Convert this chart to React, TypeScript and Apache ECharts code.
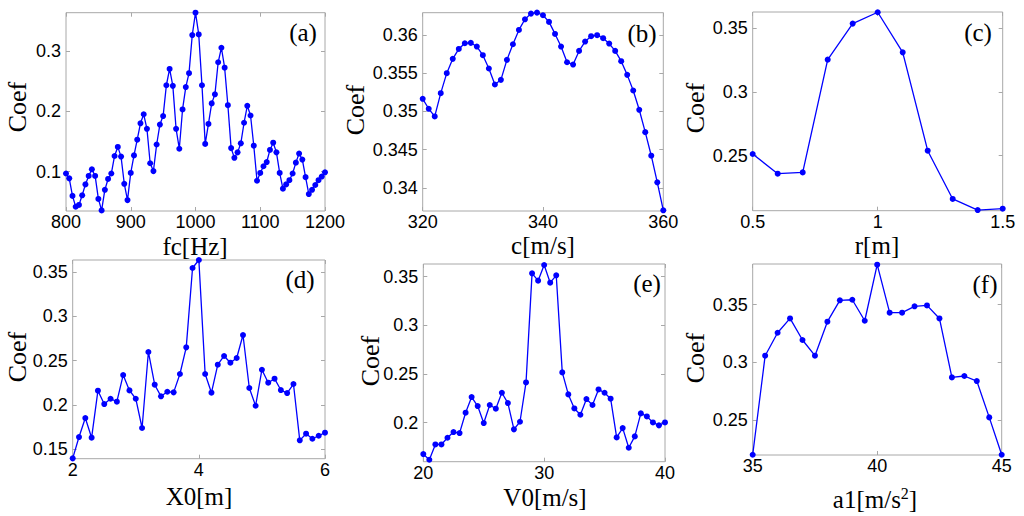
import { useEffect, useRef } from 'react'
import * as echarts from 'echarts'

// ---- data ----
const fcHz = [
  800, 805, 810, 815, 820, 825, 830, 835, 840, 845, 850, 855, 860, 865, 870, 875, 880, 885, 890, 895,
  900, 905, 910, 915, 920, 925, 930, 935, 940, 945, 950, 955, 960, 965, 970, 975, 980, 985, 990, 995,
  1000, 1005, 1010, 1015, 1020, 1025, 1030, 1035, 1040, 1045, 1050, 1055, 1060, 1065, 1070, 1075, 1080,
  1085, 1090, 1095, 1100, 1105, 1110, 1115, 1120, 1125, 1130, 1135, 1140, 1145, 1150, 1155, 1160, 1165,
  1170, 1175, 1180, 1185, 1190, 1195, 1200,
]
const coefFc = [
  0.097, 0.089, 0.06, 0.042, 0.045, 0.061, 0.079, 0.093, 0.104, 0.093, 0.055, 0.036, 0.07, 0.088, 0.097,
  0.126, 0.141, 0.125, 0.08, 0.053, 0.098, 0.127, 0.153, 0.18, 0.195, 0.171, 0.114, 0.101, 0.145, 0.178,
  0.192, 0.243, 0.27, 0.242, 0.171, 0.138, 0.203, 0.24, 0.263, 0.326, 0.363, 0.327, 0.243, 0.146, 0.179,
  0.213, 0.228, 0.281, 0.305, 0.272, 0.21, 0.139, 0.123, 0.132, 0.147, 0.181, 0.209, 0.193, 0.143, 0.085,
  0.098, 0.109, 0.116, 0.136, 0.148, 0.132, 0.098, 0.072, 0.079, 0.086, 0.097, 0.115, 0.13, 0.12, 0.091,
  0.063, 0.07, 0.078, 0.086, 0.092, 0.099,
]

const cMs = [
  320, 321, 322, 323, 324, 325, 326, 327, 328, 329, 330, 331, 332, 333, 334, 335, 336, 337, 338, 339, 340,
  341, 342, 343, 344, 345, 346, 347, 348, 349, 350, 351, 352, 353, 354, 355, 356, 357, 358, 359, 360,
]
const coefC = [
  0.35165, 0.35035, 0.34935, 0.35239, 0.355, 0.35687, 0.35817, 0.35891, 0.35896, 0.35848, 0.35735,
  0.35561, 0.35352, 0.35413, 0.35674, 0.35878, 0.36065, 0.36204, 0.36278, 0.36291, 0.36257, 0.3617,
  0.36013, 0.35848, 0.35643, 0.35613, 0.35791, 0.35913, 0.35983, 0.35996, 0.35957, 0.35887, 0.35791,
  0.35657, 0.35478, 0.35274, 0.35022, 0.3473, 0.34422, 0.34074, 0.33709,
]

const rM = [0.5, 0.6, 0.7, 0.8, 0.9, 1.0, 1.1, 1.2, 1.3, 1.4, 1.5]
const coefR = [0.2513, 0.2359, 0.2369, 0.3252, 0.3534, 0.3623, 0.3309, 0.2539, 0.2161, 0.2074, 0.2085]

const x0M = [
  2.0, 2.1, 2.2, 2.3, 2.4, 2.5, 2.6, 2.7, 2.8, 2.9, 3.0, 3.1, 3.2, 3.3, 3.4, 3.5, 3.6, 3.7, 3.8, 3.9, 4.0,
  4.1, 4.2, 4.3, 4.4, 4.5, 4.6, 4.7, 4.8, 4.9, 5.0, 5.1, 5.2, 5.3, 5.4, 5.5, 5.6, 5.7, 5.8, 5.9, 6.0,
]
const coefX0 = [
  0.1399, 0.1639, 0.1853, 0.1632, 0.2162, 0.2011, 0.2071, 0.2038, 0.2338, 0.2165, 0.2071, 0.1741, 0.2598,
  0.2229, 0.2098, 0.215, 0.2143, 0.235, 0.265, 0.3545, 0.3635, 0.235, 0.2139, 0.2455, 0.2553, 0.2477,
  0.253, 0.2789, 0.2192, 0.1992, 0.2398, 0.2252, 0.2297, 0.2169, 0.2135, 0.2237, 0.1602, 0.1677, 0.162,
  0.1654, 0.1688,
]

const v0Ms = [
  20, 20.5, 21, 21.5, 22, 22.5, 23, 23.5, 24, 24.5, 25, 25.5, 26, 26.5, 27, 27.5, 28, 28.5, 29, 29.5, 30,
  30.5, 31, 31.5, 32, 32.5, 33, 33.5, 34, 34.5, 35, 35.5, 36, 36.5, 37, 37.5, 38, 38.5, 39, 39.5, 40,
]
const coefV0 = [
  0.1678, 0.162, 0.1777, 0.1777, 0.1846, 0.1904, 0.1894, 0.2103, 0.2264, 0.2171, 0.1997, 0.2182, 0.2144,
  0.2308, 0.2202, 0.1932, 0.201, 0.2414, 0.3534, 0.3459, 0.362, 0.3438, 0.3514, 0.2517, 0.2291, 0.2147,
  0.2082, 0.2243, 0.2182, 0.2342, 0.2308, 0.2247, 0.1849, 0.1945, 0.1743, 0.186, 0.2096, 0.2065, 0.2003,
  0.1973, 0.2003,
]

const a1Ms2 = [35, 35.5, 36, 36.5, 37, 37.5, 38, 38.5, 39, 39.5, 40, 40.5, 41, 41.5, 42, 42.5, 43, 43.5, 44, 44.5, 45]
const coefA1 = [
  0.2199, 0.3058, 0.3257, 0.3381, 0.3194, 0.3058, 0.3353, 0.3538, 0.3543, 0.3361, 0.3847, 0.3431, 0.3431,
  0.3486, 0.3494, 0.3381, 0.287, 0.2882, 0.2838, 0.2523, 0.2199,
]

// y tick values per panel
const yTicksA = [0.1, 0.2, 0.3]
const yTicksB = [0.34, 0.345, 0.35, 0.355, 0.36]
const yTicksC = [0.25, 0.3, 0.35]
const yTicksD = [0.15, 0.2, 0.25, 0.3, 0.35]
const yTicksE = [0.2, 0.25, 0.3, 0.35]
const yTicksF = [0.25, 0.3, 0.35]

const panelLabels = ['(a)', '(b)', '(c)', '(d)', '(e)', '(f)']

// ---- layout ----
const panels = [
  { x: fcHz, y: coefFc, yTicks: yTicksA, grid: [66, 12.7, 259, 198.3], xr: [800, 1200, 100], yr: [0.035, 0.363],
    xName: 'fc[Hz]', xNamePos: [195, 246], coefPos: [17, 107], labelPos: [303, 32] },
  { x: cMs, y: coefC, yTicks: yTicksB, grid: [422.7, 12.7, 240.6, 198.3], xr: [320, 360, 20], yr: [0.337, 0.3629],
    xName: 'c[m/s]', xNamePos: [543, 245], coefPos: [355, 110], labelPos: [642, 33] },
  { x: rM, y: coefR, yTicks: yTicksC, grid: [752.7, 12, 250, 198.7], xr: [0.5, 1.5, 0.5], yr: [0.2069, 0.3625],
    xName: 'r[m]', xNamePos: [877, 245], coefPos: [695, 108], labelPos: [978, 32] },
  { x: x0M, y: coefX0, yTicks: yTicksD, grid: [72.7, 260, 252.3, 198.7], xr: [2, 6, 2], yr: [0.1395, 0.3635],
    xName: 'X0[m]', xNamePos: [199, 496], coefPos: [17, 357], labelPos: [300, 279] },
  { x: v0Ms, y: coefV0, yTicks: yTicksE, grid: [423.3, 264, 241.7, 197.7], xr: [20, 40, 10], yr: [0.16, 0.363],
    xName: 'V0[m/s]', xNamePos: [545, 497], coefPos: [370, 361], labelPos: [647, 283] },
  { x: a1Ms2, y: coefA1, yTicks: yTicksF, grid: [752.7, 264, 249, 191], xr: [35, 45, 5], yr: [0.2197, 0.3853],
    xName: 'a1[m/s{sup|2}]', xNamePos: [875, 499], coefPos: [695, 358], labelPos: [985, 284] },
]

const SANS = 'Liberation Sans'
const SERIF = 'Liberation Serif'
const BOX = '#a8a8a8'
const BLUE = '#0000ff'

export default function App() {
  const ref = useRef<HTMLDivElement>(null)

  useEffect(() => {
    if (!ref.current) return
    const chart = echarts.init(ref.current, null, { renderer: 'svg' })

    const grid: any[] = []
    const xAxis: any[] = []
    const yAxis: any[] = []
    const series: any[] = []
    const graphic: any[] = []

    panels.forEach((p, i) => {
      const [left, top, width, height] = p.grid
      grid.push({ left, top, width, height, show: true, borderColor: BOX, borderWidth: 1, containLabel: false })

      const tick = { show: true, inside: true, length: 4, lineStyle: { color: BOX, width: 1 } }
      xAxis.push({
        type: 'value', gridIndex: i, position: 'bottom', min: p.xr[0], max: p.xr[1], interval: p.xr[2],
        axisLine: { show: false }, splitLine: { show: false }, axisTick: tick,
        axisLabel: { color: '#000', fontFamily: SANS, fontSize: 18, lineHeight: 16, margin: 3,
          formatter: (v: number) => String(v) },
      })
      xAxis.push({
        type: 'value', gridIndex: i, position: 'top', min: p.xr[0], max: p.xr[1], interval: p.xr[2],
        axisLine: { show: false }, splitLine: { show: false }, axisTick: tick, axisLabel: { show: false },
      })
      yAxis.push({
        type: 'value', gridIndex: i, position: 'left', min: p.yr[0], max: p.yr[1],
        axisLine: { show: false }, splitLine: { show: false },
        axisTick: { ...tick, customValues: p.yTicks },
        axisLabel: { color: '#000', fontFamily: SANS, fontSize: 18, lineHeight: 16, margin: 5,
          customValues: p.yTicks, formatter: (v: number) => String(v) },
      })
      yAxis.push({
        type: 'value', gridIndex: i, position: 'right', min: p.yr[0], max: p.yr[1],
        axisLine: { show: false }, splitLine: { show: false },
        axisTick: { ...tick, customValues: p.yTicks }, axisLabel: { show: false },
      })

      series.push({
        type: 'line', xAxisIndex: i * 2, yAxisIndex: i * 2,
        data: p.x.map((xv, k) => [xv, p.y[k]]),
        symbol: 'circle', symbolSize: 6, showSymbol: true, clip: false,
        lineStyle: { color: BLUE, width: 1.3 }, itemStyle: { color: BLUE },
      })

      graphic.push({
        type: 'text', x: p.coefPos[0], y: p.coefPos[1], rotation: Math.PI / 2,
        style: { text: 'Coef', fontFamily: SERIF, fontSize: 26, fill: '#000', align: 'center',
          verticalAlign: 'middle', lineHeight: 22 },
      })
      graphic.push({
        type: 'text', x: p.xNamePos[0], y: p.xNamePos[1],
        style: {
          text: p.xName, fontFamily: SERIF, fontSize: 25, fill: '#000', align: 'center', verticalAlign: 'middle',
          lineHeight: 22,
          rich: { sup: { fontFamily: SERIF, fontSize: 16, fill: '#000', lineHeight: 22, padding: [0, 0, 12, 0] } },
        },
      })
      graphic.push({
        type: 'text', x: p.labelPos[0], y: p.labelPos[1],
        style: { text: panelLabels[i], fontFamily: SERIF, fontSize: 25, fill: '#000', align: 'center',
          verticalAlign: 'middle' },
      })
    })

    chart.setOption({ animation: false, backgroundColor: '#fff', grid, xAxis, yAxis, series, graphic })

    return () => {
      chart.dispose()
    }
  }, [])

  return <div ref={ref} style={{ position: 'fixed', left: 0, top: 0, width: 1024, height: 516 }} />
}
